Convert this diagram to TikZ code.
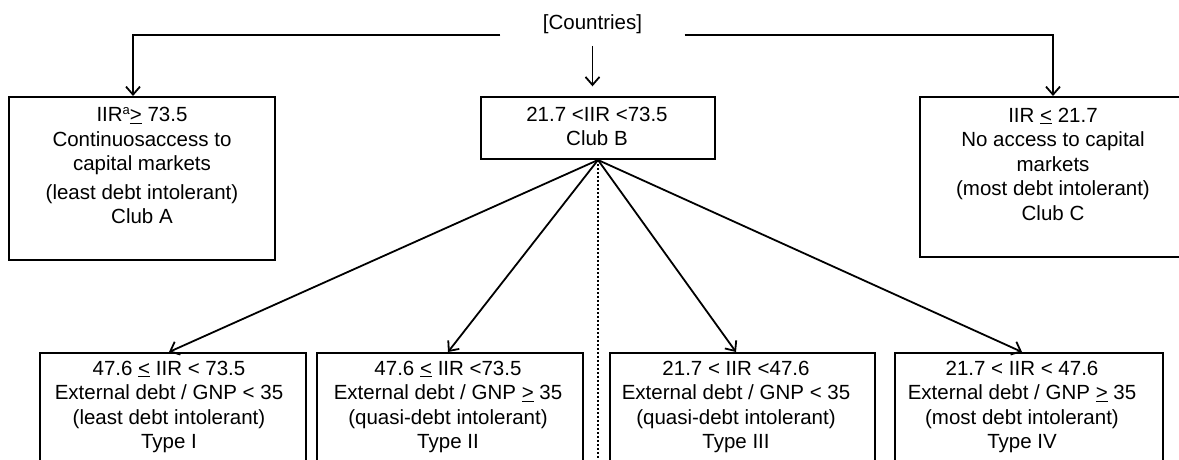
\documentclass[tikz,border=0pt]{standalone}
\usepackage{fontspec}
\setmainfont{Liberation Sans}
\usetikzlibrary{arrows.meta}
\newcommand{\fl}{\rule{0pt}{15pt}}
\newcommand{\ulsym}[1]{\underline{#1}}
\newcommand{\supa}{\raisebox{7.5pt}{\fontsize{13}{13}\selectfont a}}
\begin{document}
\begin{tikzpicture}[x=1pt,y=-1pt,
  box/.style={draw, line width=2pt, rectangle, inner sep=0pt},
  txt/.style={align=center, inner sep=0pt, anchor=north, font=\fontsize{20.5}{24.5}\selectfont},
  conn/.style={line width=1.8pt, -{Straight Barb[length=8pt,width=14pt]}},
  dotline/.style={line width=2.2pt, dash pattern=on 2pt off 2pt},
]
\useasboundingbox (0,0) rectangle (1179,460);
\clip (0,0) rectangle (1179,460);

% boxes
\node[box, minimum width=266pt, minimum height=163pt] (A) at (142,178.5) {};
\node[box, minimum width=234pt, minimum height=62pt] (B) at (598,128) {};
\node[box, minimum width=266pt, minimum height=160pt] (C) at (1053,177) {};
\node[box, minimum width=266pt, minimum height=150pt] (I) at (173,428) {};
\node[box, minimum width=266pt, minimum height=150pt] (II) at (450,428) {};
\node[box, minimum width=265pt, minimum height=150pt] (III) at (742.5,428) {};
\node[box, minimum width=268pt, minimum height=150pt] (IV) at (1029,428) {};

% texts
\node[inner sep=0pt, minimum width=184pt, text height=15pt, text depth=5pt, anchor=base,
      font=\fontsize{20.5}{24.5}\selectfont] (ctry) at (592.5,30) {[Countries]};
\node[txt] (At) at (142,106.7) {\fl IIR\supa\ulsym{>} 73.5\\Continuosaccess to\\capital markets\\[4pt](least debt intolerant)\\Club A};
\node[txt] (Bt) at (597,106.7) {\fl 21.7 <IIR <73.5\\[-1pt]Club B};
\node[txt] (Ct) at (1053,107) {\fl IIR \ulsym{<} 21.7\\No access to capital\\markets\\(most debt intolerant)\\Club C};
\node[txt] (It) at (169,360) {\fl 47.6 \ulsym{<} IIR < 73.5\\External debt / GNP < 35\\(least debt intolerant)\\Type I};
\node[txt] (IIt) at (448,360) {\fl 47.6 \ulsym{<} IIR <73.5\\External debt / GNP \ulsym{>} 35\\(quasi-debt intolerant)\\Type II};
\node[txt] (IIIt) at (736,360) {\fl 21.7 < IIR <47.6\\External debt / GNP < 35\\(quasi-debt intolerant)\\Type III};
\node[txt] (IVt) at (1022,360) {\fl 21.7 < IIR < 47.6\\External debt / GNP \ulsym{>} 35\\(most debt intolerant)\\Type IV};

% connectors
\draw[conn] (ctry.south west) -| ([xshift=-9pt]A.north);
\draw[conn] (ctry.south east) -| (C.north);
\draw[conn, shorten <=10.7pt, shorten >=9.7pt] (ctry.south) -- (ctry.south |- B.north);
\draw[conn] (B.south) -- (It.north |- I.north);
\draw[conn] (B.south) -- (IIt.north |- II.north);
\draw[conn] (B.south) -- (IIIt.north |- III.north);
\draw[conn] (B.south) -- (IVt.north |- IV.north);
\draw[dotline] (B.south) -- (B.south |- I.south);
\end{tikzpicture}
\end{document}
